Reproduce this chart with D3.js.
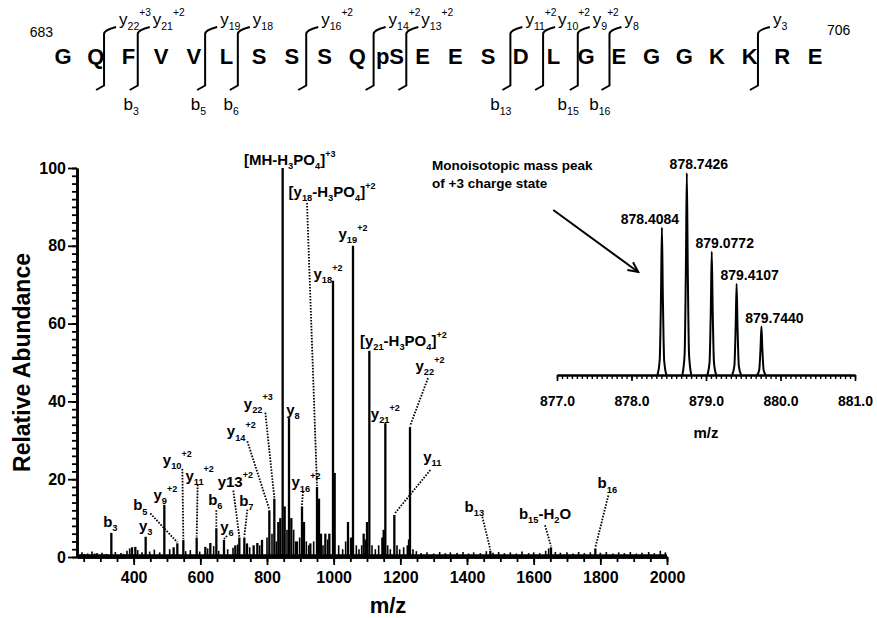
<!DOCTYPE html>
<html>
<head>
<meta charset="utf-8">
<script src="https://cdn.jsdelivr.net/npm/d3@7"></script>
<style>
  body { margin: 0; background: #fff; }
  svg { display: block; font-family: "Liberation Sans", Arial, sans-serif; }
</style>
</head>
<body>
<div id="chart"></div>
<script>
// ---- peptide sequence ----
const residues = ["G","Q","F","V","V","L","S","S","S","Q","pS","E","E","S","D","L","G","E","G","G","K","K","R","E"];
const seqStart = "683", seqEnd = "706";
// cleavage after residue index (0-based), y ion above, b ion below
const cleavages = [
  { after: 1,  y: "y_{22}^{+3}", b: null },
  { after: 2,  y: "y_{21}^{+2}", b: "b_{3}" },
  { after: 4,  y: "y_{19}",      b: "b_{5}" },
  { after: 5,  y: "y_{18}",      b: "b_{6}" },
  { after: 7,  y: "y_{16}^{+2}", b: null },
  { after: 9,  y: "y_{14}^{+2}", b: null },
  { after: 10, y: "y_{13}^{+2}", b: null },
  { after: 13, y: "y_{11}^{+2}", b: "b_{13}" },
  { after: 14, y: "y_{10}^{+2}", b: null },
  { after: 15, y: "y_{9}^{+2}",  b: "b_{15}" },
  { after: 16, y: "y_{8}",       b: "b_{16}" },
  { after: 21, y: "y_{3}",       b: null }
];

// ---- MS/MS spectrum [m/z, relative abundance] ----
const peaks = [
  [333, 6.2], [395, 2.5], [405, 2.6], [436, 5.2], [492, 13.4], [520, 2.5], [531, 3.5],
  [549, 4.4], [589, 5.0], [615, 2.6], [630, 3.6], [648, 7.4], [671, 4.4], [705, 3.0],
  [717, 5.0], [732, 5.0], [740, 3.5], [760, 3.0], [771, 3.6], [785, 4.4], [807, 12],
  [822, 15], [834, 9], [840, 10], [847, 100], [853, 13], [866, 35.7], [873, 10],
  [890, 4], [905, 13], [911, 9], [930, 3.5], [950, 18], [956, 15], [962, 6], [975, 6],
  [987, 6], [998, 71], [1003, 21.6], [1043, 9], [1052, 5], [1058, 80], [1090, 6],
  [1100, 9], [1107, 53], [1146, 5], [1150, 7], [1155, 34.4], [1182, 10.8], [1222, 3],
  [1226, 4.5], [1229, 33.4], [1470, 1.6], [1652, 2.5], [1785, 2.2]
];
const noise = [
  [245, 1.2], [252, 0.8], [262, 0.9], [275, 1.4], [283, 0.9], [290, 1.0], [305, 1.1],
  [318, 0.8], [345, 1.3], [362, 1.0], [370, 0.8], [380, 1.6], [388, 2.2], [412, 1.8],
  [425, 1.2], [448, 1.4], [462, 1.9], [478, 1.2], [508, 2.0], [556, 1.5], [570, 1.8],
  [598, 1.4], [622, 2.2], [640, 2.8], [655, 1.6], [682, 2.0], [698, 2.4], [712, 3.2],
  [748, 2.5], [778, 3.0], [800, 5], [815, 6], [828, 4], [860, 7], [880, 7], [886, 4],
  [898, 5], [918, 4], [925, 3], [940, 4], [968, 3], [982, 4.5], [1015, 3], [1027, 2],
  [1036, 4], [1068, 3], [1076, 2], [1084, 3], [1095, 4.5], [1115, 3], [1125, 2],
  [1135, 3], [1162, 3], [1170, 2], [1190, 3], [1198, 2], [1210, 2.5], [1238, 2],
  [1248, 1.5], [1262, 1.0], [1280, 1.2], [1300, 0.9], [1318, 1.3], [1335, 1.0],
  [1350, 1.2], [1370, 1.0], [1388, 1.3], [1405, 0.9], [1420, 1.2], [1440, 1.0],
  [1458, 1.5], [1478, 1.1], [1495, 1.3], [1512, 1.0], [1530, 1.2], [1548, 0.9],
  [1565, 1.4], [1585, 1.0], [1600, 1.2], [1618, 1.0], [1636, 1.6], [1645, 2.2],
  [1665, 1.3], [1680, 1.1], [1700, 1.2], [1718, 0.9], [1735, 1.3], [1752, 1.0],
  [1770, 1.2], [1800, 1.1], [1818, 1.3], [1838, 0.9], [1855, 1.2], [1872, 1.0],
  [1890, 1.3], [1908, 0.9], [1925, 1.1], [1945, 1.3], [1962, 1.0], [1980, 1.6], [1995, 1.2]
];
const peakLabels = [
  { mz: 333,  text: "b_{3}" },
  { mz: 436,  text: "y_{3}" },
  { mz: 492,  text: "y_{9}^{+2}" },
  { mz: 531,  text: "b_{5}" },
  { mz: 549,  text: "y_{10}^{+2}" },
  { mz: 589,  text: "y_{11}^{+2}" },
  { mz: 648,  text: "b_{6}" },
  { mz: 671,  text: "y_{6}" },
  { mz: 717,  text: "y13^{+2}" },
  { mz: 732,  text: "b_{7}" },
  { mz: 807,  text: "y_{14}^{+2}" },
  { mz: 822,  text: "y_{22}^{+3}" },
  { mz: 847,  text: "[MH-H_{3}PO_{4}]^{+3}" },
  { mz: 866,  text: "y_{8}" },
  { mz: 905,  text: "y_{16}^{+2}" },
  { mz: 950,  text: "[y_{18}-H_{3}PO_{4}]^{+2}" },
  { mz: 998,  text: "y_{18}^{+2}" },
  { mz: 1058, text: "y_{19}^{+2}" },
  { mz: 1107, text: "[y_{21}-H_{3}PO_{4}]^{+2}" },
  { mz: 1155, text: "y_{21}^{+2}" },
  { mz: 1182, text: "y_{11}" },
  { mz: 1229, text: "y_{22}^{+2}" },
  { mz: 1470, text: "b_{13}" },
  { mz: 1652, text: "b_{15}-H_{2}O" },
  { mz: 1785, text: "b_{16}" }
];
const xTicks = [400, 600, 800, 1000, 1200, 1400, 1600, 1800, 2000];
const yTicks = [0, 20, 40, 60, 80, 100];

// ---- inset: isotope cluster of precursor ----
const isoMz = [878.4084, 878.7426, 879.0772, 879.4107, 879.7440];
const isoInt = [73, 100, 61, 45, 24];
const insetTicks = [877, 878, 879, 880, 881];

// label placement (px offsets from peak top): label dx, dy, leader start dx, dy
const labelPos = [
  [-1, -6], [0, -6], [1, -5], [-37, -33, -27, -30], [-6, -75, -1, -71], [3, -57, 1, -53],
  [-1, -23, 0, -18], [3, -8, 3, -4], [-4, -51, -6, -47], [2, -32, 3, -28],
  [-28, -74, -22, -69], [-16, -90, -9, -86], [7, -3], [4, -3], [4, -19, 1, -15],
  [15, -290, -10, -284], [-5, -2], [0, -7], [34, -5], [0, -4], [38, -53, 36, -45],
  [20, -56, 18, -49], [-16, -39, -8, -34], [-6, -28, -6, -22], [12, -60, 13, -53]
];
const isoLabelDx = [-12, 12, 13, 13, 13];

const W = 877, H = 618;
const svg = d3.select("#chart").append("svg").attr("width", W).attr("height", H);
svg.append("rect").attr("width", W).attr("height", H).attr("fill", "#fff");

// text with _{sub} and ^{sup}
function richText(g, str, base, weight) {
  const t = g.append("text").attr("font-size", base).attr("font-weight", weight);
  const parts = str.split(/(_\{[^}]*\}|\^\{[^}]*\})/).filter(s => s.length);
  let shift = 0;
  parts.forEach(p => {
    let txt = p, size = base, target = 0;
    if (p.startsWith("_{")) { txt = p.slice(2, -1); size = base * 0.62; target = base * 0.28; }
    else if (p.startsWith("^{")) { txt = p.slice(2, -1); size = base * 0.6; target = -base * 0.55; }
    t.append("tspan").attr("font-size", size).attr("dy", target - shift).text(txt);
    shift = target;
  });
  return t;
}

// ---- sequence ----
const seq = svg.append("g");
const sx = d3.scalePoint().domain(d3.range(residues.length)).range([63, 815]);
const nudge = { 1: -8, 2: -7, 4: -5, 5: -5, 7: -2, 9: 0, 10: 0, 13: 6, 14: 6, 15: 8, 16: 7, 21: -8 };

seq.selectAll("text.res")
  .data(residues)
  .join("text")
  .attr("class", "res")
  .attr("x", (d, i) => sx(i))
  .attr("y", 64)
  .attr("text-anchor", "middle")
  .attr("font-size", 22)
  .attr("font-weight", "bold")
  .text(d => d);

seq.append("text").attr("x", sx(0) - 10).attr("y", 37).attr("text-anchor", "end")
  .attr("font-size", 14).text(seqStart);
seq.append("text").attr("x", sx(residues.length - 1) + 12).attr("y", 35)
  .attr("font-size", 14).text(seqEnd);

cleavages.forEach(c => {
  const cx = (sx(c.after) + sx(c.after + 1)) / 2 + (nudge[c.after] || 0);
  seq.append("path")
    .attr("d", `M${cx - 8},90 L${cx},85.5 L${cx},34 Q${cx},30 ${cx + 12},27`)
    .attr("fill", "none").attr("stroke", "#000").attr("stroke-width", 2);
  richText(seq, c.y, 17, "normal").attr("x", cx + 15).attr("y", 25);
  if (c.b) richText(seq, c.b, 17, "normal").attr("x", cx + 1).attr("y", 110).attr("text-anchor", "end");
});

// ---- main spectrum ----
const x = d3.scaleLinear().domain([230, 2000]).range([77, 667]);
const y = d3.scaleLinear().domain([0, 100]).range([557, 168]);

const spec = svg.append("g");
spec.append("line")
  .attr("x1", x(235)).attr("x2", x(2000))
  .attr("y1", y(0.4)).attr("y2", y(0.4))
  .attr("stroke", "#000").attr("stroke-width", 2.5);

spec.selectAll("line.noise")
  .data(noise)
  .join("line")
  .attr("class", "noise")
  .attr("x1", d => x(d[0])).attr("x2", d => x(d[0]))
  .attr("y1", y(0)).attr("y2", d => y(d[1]))
  .attr("stroke", "#000").attr("stroke-width", 1.6);

spec.selectAll("line.peak")
  .data(peaks)
  .join("line")
  .attr("class", "peak")
  .attr("x1", d => x(d[0])).attr("x2", d => x(d[0]))
  .attr("y1", y(0)).attr("y2", d => y(d[1]))
  .attr("stroke", "#000").attr("stroke-width", 2.3);

const peakMap = new Map(peaks);
peakLabels.forEach((l, i) => {
  const px = x(l.mz), py = y(peakMap.get(l.mz));
  const p = labelPos[i];
  richText(spec, l.text, 15, "bold")
    .attr("x", px + p[0]).attr("y", py + p[1]).attr("text-anchor", "middle");
  if (p.length > 2) {
    spec.append("line")
      .attr("x1", px + p[2]).attr("y1", py + p[3])
      .attr("x2", px).attr("y2", py - 1)
      .attr("stroke", "#000").attr("stroke-width", 1.8)
      .attr("stroke-dasharray", "1.6,1.4");
  }
});

// axes
svg.append("g").attr("transform", `translate(0,${y(0)})`)
  .call(d3.axisBottom(x).tickValues(xTicks).tickFormat(d3.format("d"))
    .tickSize(8).tickPadding(7).tickSizeOuter(0));
svg.append("g").attr("transform", `translate(0,${y(0)})`)
  .call(d3.axisBottom(x).tickValues(d3.range(250, 2001, 50)).tickSize(5).tickFormat("").tickSizeOuter(0));
svg.append("g").attr("transform", `translate(${x(230)},0)`)
  .call(d3.axisLeft(y).tickValues(yTicks).tickSize(9).tickPadding(2).tickSizeOuter(0));
svg.append("g").attr("transform", `translate(${x(230)},0)`)
  .call(d3.axisLeft(y).tickValues(d3.range(0, 101, 2)).tickSize(5).tickFormat("").tickSizeOuter(0));

svg.selectAll(".domain").attr("stroke-width", 2.5);
svg.selectAll(".tick line").attr("stroke-width", 1.8);
svg.selectAll(".tick text").attr("font-size", 16).attr("font-weight", "bold")
  .attr("font-family", "Liberation Sans, Arial, sans-serif").attr("fill", "#000");

svg.append("text").attr("x", 388).attr("y", 613).attr("text-anchor", "middle")
  .attr("font-size", 22).attr("font-weight", "bold").text("m/z");
svg.append("text").attr("transform", `translate(30,${(y(0) + y(100)) / 2}) rotate(-90)`)
  .attr("text-anchor", "middle").attr("font-size", 23).attr("font-weight", "bold")
  .text("Relative Abundance");

// ---- inset ----
const xi = d3.scaleLinear().domain([877, 881]).range([557, 855]);
const yi = d3.scaleLinear().domain([0, 100]).range([375, 173]);
const inset = svg.append("g");

const profile = [[-0.06, 0], [-0.03, 0.1], [-0.012, 0.55], [0, 1], [0.012, 0.55], [0.03, 0.1], [0.06, 0]];
const peakLine = d3.line().curve(d3.curveMonotoneX);
isoMz.forEach((m, i) => {
  inset.append("path")
    .attr("d", peakLine(profile.map(p => [xi(m + p[0]), yi(isoInt[i] * p[1])])))
    .attr("fill", "#fff").attr("stroke", "#000").attr("stroke-width", 2);
  inset.append("text")
    .attr("x", xi(m) + isoLabelDx[i]).attr("y", yi(isoInt[i]) - 4)
    .attr("text-anchor", "middle").attr("font-size", 14).attr("font-weight", "bold")
    .text(m.toFixed(4));
});

inset.append("g").attr("transform", `translate(0,${yi(0)})`)
  .call(d3.axisBottom(xi).tickValues(insetTicks).tickFormat(d3.format(".1f"))
    .tickSize(6).tickPadding(15).tickSizeOuter(0))
  .call(g => g.selectAll("text").attr("font-size", 14).attr("font-weight", "bold")
    .attr("font-family", "Liberation Sans, Arial, sans-serif").attr("fill", "#000"))
  .call(g => g.selectAll(".tick line").attr("stroke-width", 1.6))
  .call(g => g.select(".domain").attr("stroke-width", 2.2));
inset.append("g").attr("transform", `translate(0,${yi(0)})`)
  .call(d3.axisBottom(xi).tickValues(d3.range(877, 881.001, 1 / 15)).tickSize(4).tickFormat("").tickSizeOuter(0))
  .call(g => g.selectAll(".tick line").attr("stroke-width", 1.4))
  .call(g => g.select(".domain").attr("stroke-width", 2.2));

inset.append("text").attr("x", xi(879)).attr("y", 438).attr("text-anchor", "middle")
  .attr("font-size", 15).attr("font-weight", "bold").text("m/z");

inset.append("text").attr("x", 432).attr("y", 170)
  .attr("font-size", 13.5).attr("font-weight", "bold").text("Monoisotopic mass peak");
inset.append("text").attr("x", 432).attr("y", 188)
  .attr("font-size", 13.5).attr("font-weight", "bold").text("of +3 charge state");

// arrow to the monoisotopic peak
const a0 = [xi(876.95), yi(81.7)], a1 = [xi(878.09), yi(51)];
const ang = Math.atan2(a1[1] - a0[1], a1[0] - a0[0]);
inset.append("line").attr("x1", a0[0]).attr("y1", a0[1]).attr("x2", a1[0]).attr("y2", a1[1])
  .attr("stroke", "#000").attr("stroke-width", 2);
inset.append("path")
  .attr("d", `M${a1[0] - 11 * Math.cos(ang - 0.45)},${a1[1] - 11 * Math.sin(ang - 0.45)} L${a1[0]},${a1[1]} L${a1[0] - 11 * Math.cos(ang + 0.45)},${a1[1] - 11 * Math.sin(ang + 0.45)}`)
  .attr("fill", "none").attr("stroke", "#000").attr("stroke-width", 2);
</script>
</body>
</html>
